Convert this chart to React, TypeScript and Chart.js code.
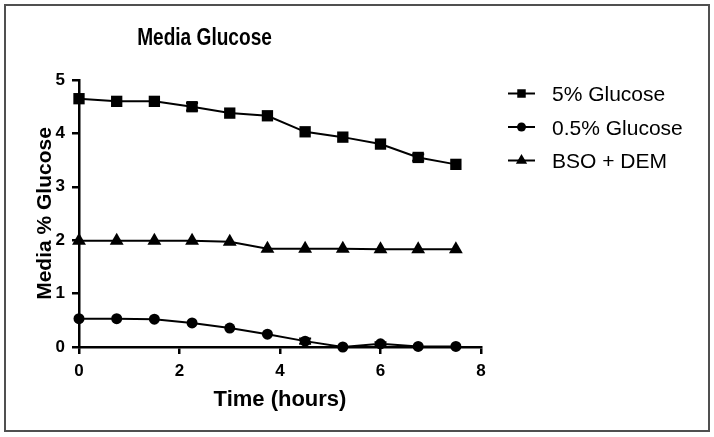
import React, { useEffect, useRef } from 'react';
import { Chart, registerables } from 'chart.js';

Chart.register(...registerables);

const chartTitle = 'Media Glucose';
const xTitle = 'Time (hours)';
const yTitle = 'Media % Glucose';
const timeHours = [0, 0.75, 1.5, 2.25, 3, 3.75, 4.5, 5.25, 6, 6.75, 7.5];
const glucose5 = [4.65, 4.6, 4.6, 4.5, 4.38, 4.33, 4.03, 3.93, 3.8, 3.55, 3.42];
const glucose5Err = [0, 0, 0, 0.07, 0, 0, 0, 0, 0, 0.06, 0];
const glucose05 = [0.53, 0.53, 0.52, 0.45, 0.355, 0.24, 0.11, 0.0, 0.06, 0.01, 0.01];
const glucose05Err = [0, 0, 0, 0, 0, 0, 0.05, 0, 0.03, 0, 0];
const bsoDem = [1.99, 1.99, 1.99, 1.99, 1.97, 1.84, 1.84, 1.84, 1.83, 1.83, 1.83];
const bsoDemErr = [0, 0, 0, 0, 0, 0, 0, 0, 0, 0, 0];
const seriesLabels = ['5% Glucose', '0.5% Glucose', 'BSO + DEM'];
const seriesStyles = ['rect', 'circle', 'triangle'];
const seriesRadius = [8, 5.5, 8];
const legendRadius = [6, 4.5, 6.5];

const FONT = '"Liberation Sans", Arial, sans-serif';

function drawMarker(ctx: CanvasRenderingContext2D, style: string, x: number, y: number, r: number) {
  ctx.beginPath();
  if (style === 'rect') {
    const s = Math.SQRT1_2 * r;
    ctx.rect(x - s, y - s, 2 * s, 2 * s);
  } else if (style === 'circle') {
    ctx.arc(x, y, r, 0, Math.PI * 2);
  } else {
    const h = r * 1.5;
    const w = r * Math.sqrt(3) / 2;
    ctx.moveTo(x, y - r);
    ctx.lineTo(x + w, y - r + h);
    ctx.lineTo(x - w, y - r + h);
    ctx.closePath();
  }
  ctx.fill();
}

const framePlugin = {
  id: 'frameAndTitle',
  beforeDraw(chart: any) {
    const ctx = chart.ctx;
    ctx.save();
    ctx.fillStyle = '#ffffff';
    ctx.fillRect(0, 0, chart.width, chart.height);
    ctx.strokeStyle = '#505050';
    ctx.lineWidth = 2;
    ctx.strokeRect(5, 5, chart.width - 10, chart.height - 11);
    ctx.restore();
  },
  afterDraw(chart: any) {
    const ctx = chart.ctx;
    ctx.save();
    ctx.fillStyle = '#000';
    ctx.font = 'bold 23px ' + FONT;
    ctx.textAlign = 'center';
    ctx.textBaseline = 'alphabetic';
    ctx.translate(204.5, 45);
    ctx.scale(0.83, 1);
    ctx.fillText(chartTitle, 0, 0);
    ctx.restore();

    // legend
    ctx.save();
    ctx.font = '21px ' + FONT;
    ctx.textAlign = 'left';
    ctx.textBaseline = 'alphabetic';
    const rows = [101, 134.5, 168];
    chart.data.datasets.forEach((ds: any, i: number) => {
      const by = rows[i];
      const my = by - 7.5;
      ctx.strokeStyle = '#000';
      ctx.lineWidth = 2;
      ctx.beginPath();
      ctx.moveTo(508, my);
      ctx.lineTo(535, my);
      ctx.stroke();
      ctx.fillStyle = '#000';
      drawMarker(ctx, ds.pointStyle, 521.5, my, legendRadius[i]);
      ctx.fillText(ds.label, 552, by);
    });
    ctx.restore();
  },
  afterDatasetsDraw(chart: any) {
    const ctx = chart.ctx;
    const xs = chart.scales.x;
    const ys = chart.scales.y;
    ctx.save();
    ctx.strokeStyle = '#000';
    ctx.lineWidth = 2;
    chart.data.datasets.forEach((ds: any) => {
      const errs: number[] = ds.errors || [];
      ds.data.forEach((p: any, j: number) => {
        const e = errs[j];
        if (!e) return;
        const px = xs.getPixelForValue(p.x);
        const y1 = ys.getPixelForValue(p.y - e);
        const y2 = ys.getPixelForValue(p.y + e);
        ctx.beginPath();
        ctx.moveTo(px, y1);
        ctx.lineTo(px, y2);
        ctx.moveTo(px - 6, y1);
        ctx.lineTo(px + 6, y1);
        ctx.moveTo(px - 6, y2);
        ctx.lineTo(px + 6, y2);
        ctx.stroke();
      });
    });
    ctx.restore();
  },
};

export default function App() {
  const ref = useRef<HTMLCanvasElement | null>(null);
  useEffect(() => {
    if (!ref.current) return;
    const values = [glucose5, glucose05, bsoDem];
    const errors = [glucose5Err, glucose05Err, bsoDemErr];
    const datasets = seriesLabels.map((label, i) => ({
      label,
      data: timeHours.map((t, j) => ({ x: t, y: values[i][j] })),
      errors: errors[i],
      borderColor: '#000',
      backgroundColor: '#000',
      borderWidth: 2,
      pointStyle: seriesStyles[i],
      pointRadius: seriesRadius[i],
      pointBorderWidth: 0,
      pointBackgroundColor: '#000',
      tension: 0,
      clip: false as any,
    }));
    const chart = new Chart(ref.current, {
      type: 'line',
      data: { datasets: datasets as any },
      options: {
        responsive: false,
        animation: false,
        layout: { padding: { left: 0, top: 80, right: 233, bottom: 0 } },
        plugins: { legend: { display: false }, title: { display: false }, tooltip: { enabled: false } },
        scales: {
          x: {
            type: 'linear',
            min: 0,
            max: 8,
            ticks: { stepSize: 2, color: '#000', font: { family: FONT, size: 17, weight: 'bold' }, padding: 7, maxRotation: 0 },
            grid: { drawOnChartArea: false, drawTicks: true, tickLength: 7, color: '#000', lineWidth: 2.5 },
            border: { display: true, color: '#000', width: 2.5 },
            title: { display: true, text: xTitle, color: '#000', font: { family: FONT, size: 22, weight: 'bold' }, padding: { top: 0, bottom: 24 } },
            afterFit: (s: any) => { s.height = 90; },
          },
          y: {
            type: 'linear',
            min: 0,
            max: 5,
            ticks: { stepSize: 1, color: '#000', font: { family: FONT, size: 17, weight: 'bold' }, padding: 7 },
            grid: { drawOnChartArea: false, drawTicks: true, tickLength: 7, color: '#000', lineWidth: 2.5 },
            border: { display: true, color: '#000', width: 2.5 },
            title: { display: true, text: yTitle, color: '#000', font: { family: FONT, size: 21, weight: 'bold' }, padding: { top: 33, bottom: 0 } },
            afterFit: (s: any) => { s.width = 79; },
          },
        },
      },
      plugins: [framePlugin],
    });
    return () => chart.destroy();
  }, []);
  return (
    <div style={{ position: 'fixed', left: 0, top: 0, width: 714, height: 437 }}>
      <canvas ref={ref} width={714} height={437} />
    </div>
  );
}
